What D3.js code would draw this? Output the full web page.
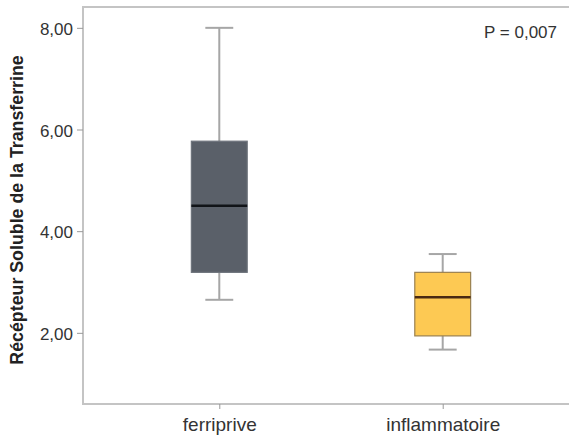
<!DOCTYPE html>
<html>
<head>
<meta charset="utf-8">
<script src="https://cdn.jsdelivr.net/npm/d3@7"></script>
<style>
  body { margin: 0; background: #fff; }
  svg { display: block; font-family: "Liberation Sans", Arial, sans-serif; }
</style>
</head>
<body>
<div id="chart"></div>
<script>
// data
var groups = ["ferriprive", "inflammatoire"];
var whiskerLow = [2.65, 1.67];
var q1 = [3.19, 1.94];
var medians = [4.50, 2.70];
var q3 = [5.77, 3.19];
var whiskerHigh = [8.00, 3.55];
var yTicks = [2, 4, 6, 8];
var boxColours = ["#5a6069", "#fdc953"];
var boxStrokes = ["#6e747c", "#9a8050"];
var medianColours = ["#111418", "#4a2a12"];
var pText = "P = 0,007";

var width = 569, height = 439;
var margin = {top: 7, right: -10, bottom: 35, left: 83};

var svg = d3.select("#chart")
  .append("svg")
    .attr("width", width)
    .attr("height", height);

var x = d3.scalePoint()
  .domain(groups)
  .range([margin.left, width - margin.right])
  .padding(0.61);

var y = d3.scaleLinear()
  .domain([0.6, 8.41])
  .range([height - margin.bottom, margin.top]);

var boxW = x.step() * 0.25;
var capW = boxW / 2;

// frame
svg.append("rect")
  .attr("x", margin.left)
  .attr("y", margin.top)
  .attr("width", width - margin.right - margin.left)
  .attr("height", y.range()[0] - margin.top)
  .attr("fill", "none")
  .attr("stroke", "#c4c4c4")
  .attr("stroke-width", 2);

// y axis
var yAxis = svg.append("g")
  .attr("transform", "translate(" + margin.left + ",0)")
  .call(d3.axisLeft(y).tickValues(yTicks).tickSize(6).tickPadding(4)
    .tickFormat(function(d) { return d3.format(".2f")(d).replace(".", ","); }));
yAxis.select(".domain").remove();
yAxis.selectAll("line").attr("stroke", "#999");
yAxis.selectAll("text")
  .attr("fill", "#333")
  .style("font-size", "17px")
  .attr("dy", "0.4em");

// x axis
var xAxis = svg.append("g")
  .attr("transform", "translate(0," + y.range()[0] + ")")
  .call(d3.axisBottom(x).tickSize(5).tickPadding(9));
xAxis.select(".domain").remove();
xAxis.selectAll("line").attr("stroke", "#999");
xAxis.selectAll("text")
  .attr("fill", "#333")
  .style("font-size", "19px");

// y title
svg.append("text")
  .attr("transform", "translate(23," + (52 + 368) / 2 + ") rotate(-90)")
  .attr("text-anchor", "middle")
  .style("font-size", "17.8px")
  .style("font-weight", "bold")
  .attr("fill", "#222")
  .text("Récépteur Soluble de la Transferrine");

// boxes
var boxes = svg.selectAll(".box")
  .data(groups)
  .enter()
  .append("g")
    .attr("class", "box");

boxes.append("line")
  .attr("x1", d => x(d)).attr("x2", d => x(d))
  .attr("y1", (d, i) => y(whiskerLow[i]))
  .attr("y2", (d, i) => y(whiskerHigh[i]))
  .attr("stroke", "#a6a6a6")
  .attr("stroke-width", 2);

boxes.append("line")
  .attr("x1", d => x(d) - capW / 2).attr("x2", d => x(d) + capW / 2)
  .attr("y1", (d, i) => y(whiskerLow[i])).attr("y2", (d, i) => y(whiskerLow[i]))
  .attr("stroke", "#a6a6a6")
  .attr("stroke-width", 2);

boxes.append("line")
  .attr("x1", d => x(d) - capW / 2).attr("x2", d => x(d) + capW / 2)
  .attr("y1", (d, i) => y(whiskerHigh[i])).attr("y2", (d, i) => y(whiskerHigh[i]))
  .attr("stroke", "#a6a6a6")
  .attr("stroke-width", 2);

boxes.append("rect")
  .attr("x", d => x(d) - boxW / 2)
  .attr("width", boxW)
  .attr("y", (d, i) => y(q3[i]))
  .attr("height", (d, i) => y(q1[i]) - y(q3[i]))
  .attr("fill", (d, i) => boxColours[i])
  .attr("stroke", (d, i) => boxStrokes[i])
  .attr("stroke-width", 1.2);

boxes.append("line")
  .attr("x1", d => x(d) - boxW / 2).attr("x2", d => x(d) + boxW / 2)
  .attr("y1", (d, i) => y(medians[i])).attr("y2", (d, i) => y(medians[i]))
  .attr("stroke", (d, i) => medianColours[i])
  .attr("stroke-width", 2.5);

// p value
svg.append("text")
  .attr("x", 557)
  .attr("y", 32)
  .attr("dy", "0.35em")
  .attr("text-anchor", "end")
  .style("font-size", "17px")
  .attr("fill", "#333")
  .text(pText);
</script>
</body>
</html>
